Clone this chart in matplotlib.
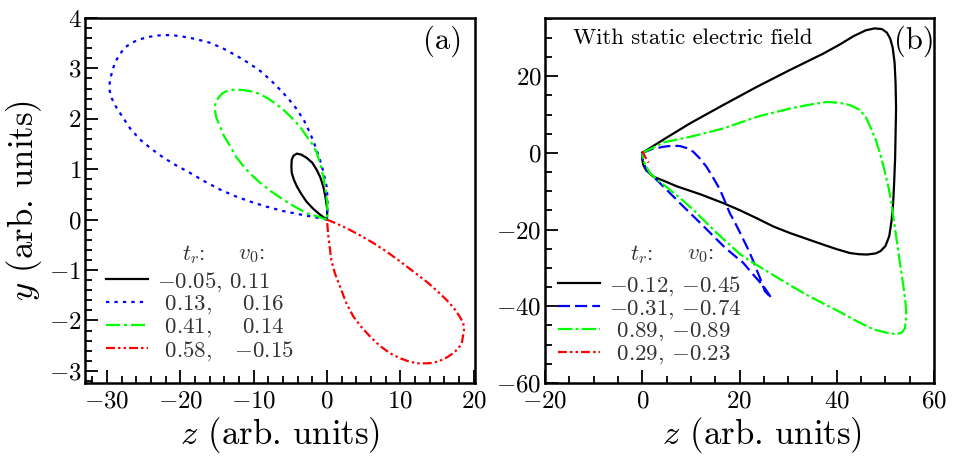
import matplotlib
matplotlib.use("Agg")
import matplotlib.pyplot as plt
from matplotlib.ticker import MultipleLocator

# ---------------- data: panel (a) ----------------
za_black = [0, 0.05, -0.2, -0.5, -0.9, -1.4, -2.0, -2.8, -3.5, -4.1, -4.55, -4.8, -4.85, -4.8, -4.5, -4.1, -3.5, -2.8, -1.9, -0.95, -0.4, 0]
ya_black = [0, 0.2, 0.45, 0.66, 0.84, 0.99, 1.13, 1.23, 1.29, 1.31, 1.27, 1.19, 1.06, 0.93, 0.79, 0.66, 0.51, 0.36, 0.22, 0.10, 0.04, 0]

za_blue = [0, -0.95, -3.2, -5.96, -8.3, -10.5, -12.6, -14.6, -16.7, -18.7, -20.6, -22.3, -24.0, -25.5, -26.8, -27.8, -28.7, -29.4, -29.7, -29.6, -29.3, -28.9, -28.3, -27.6, -26.6, -25.5, -24.1, -22.6, -21.1, -19.6, -17.8, -16.0, -14.2, -12.3, -10.6, -9.1, -7.7, -6.4, -5.2, -4.1, -3.1, -2.3, -1.6, -0.95, -0.45, -0.05, 0.1, 0.05, 0]
ya_blue = [0, 0.03, 0.09, 0.17, 0.26, 0.36, 0.47, 0.60, 0.76, 0.93, 1.08, 1.23, 1.41, 1.59, 1.80, 2.02, 2.22, 2.42, 2.60, 2.75, 2.94, 3.12, 3.27, 3.41, 3.51, 3.58, 3.63, 3.66, 3.66, 3.63, 3.58, 3.51, 3.40, 3.25, 3.10, 2.95, 2.77, 2.58, 2.39, 2.19, 1.96, 1.72, 1.46, 1.19, 0.93, 0.66, 0.42, 0.2, 0]

za_green = [0, -1.2, -2.8, -4.4, -6.0, -7.6, -9.1, -10.3, -11.4, -12.4, -13.2, -14.0, -14.6, -15.1, -15.3, -15.2, -14.8, -14.3, -13.7, -12.6, -11.4, -10.2, -9.1, -8.0, -6.9, -5.7, -4.6, -3.6, -2.8, -2.0, -1.4, -0.9, -0.5, -0.2, 0.05, 0.05, 0]
ya_green = [0, 0.06, 0.13, 0.26, 0.40, 0.56, 0.73, 0.89, 1.06, 1.25, 1.46, 1.65, 1.85, 2.03, 2.19, 2.32, 2.42, 2.50, 2.55, 2.58, 2.57, 2.54, 2.49, 2.40, 2.29, 2.15, 1.99, 1.83, 1.66, 1.50, 1.33, 1.10, 0.86, 0.60, 0.33, 0.15, 0]

za_red = [0, 1.2, 2.7, 4.5, 6.3, 8.2, 10.0, 11.8, 13.6, 15.0, 16.3, 17.3, 18.1, 18.6, 18.7, 18.4, 17.9, 17.2, 16.4, 15.4, 14.5, 13.6, 12.5, 11.3, 10.0, 8.6, 7.2, 5.9, 4.7, 3.6, 2.6, 1.8, 1.1, 0.6, 0.2, 0]
ya_red = [0, -0.07, -0.17, -0.31, -0.46, -0.64, -0.83, -1.03, -1.23, -1.41, -1.59, -1.75, -1.92, -2.05, -2.19, -2.45, -2.56, -2.65, -2.73, -2.80, -2.84, -2.85, -2.85, -2.82, -2.75, -2.65, -2.50, -2.32, -2.13, -1.92, -1.64, -1.33, -1.07, -0.80, -0.33, 0]

labels_a = [r"$-0.05$, $0.11$", r" $0.13$,    $0.16$", r" $0.41$,    $0.14$", r" $0.58$,   $-0.15$"]

# ---------------- data: panel (b) ----------------
zb_black = [0, 4.5, 9.8, 16.5, 23.5, 30.3, 37.2, 40.5, 43.5, 46.0, 47.8, 49.3, 50.3, 51.0, 51.5, 51.9, 52.1, 52.2, 52.1, 52.0, 51.8, 51.6, 51.3, 50.8, 50.0, 49.0, 48.0, 46.2, 44.5, 42.7, 40.0, 37.2, 33.8, 30.4, 27.0, 23.5, 20.0, 16.7, 12.0, 7.1, 4.5, 2.3, 0.8, 0.2, 0, 0]
yb_black = [0, 3.6, 7.7, 12.4, 17.2, 21.6, 25.9, 28.2, 30.5, 32.0, 32.5, 32.3, 31.4, 29.8, 27.5, 23.5, 18.1, 11.5, 5.1, -1.5, -7.9, -13.0, -17.4, -21.7, -24.3, -25.6, -26.2, -26.5, -26.4, -26.1, -25.1, -23.9, -22.4, -20.9, -19.2, -17.0, -14.9, -13.1, -10.8, -8.7, -7.3, -6.2, -4.5, -3.1, -1.5, 0]

zb_blue = [0, 2.0, 4.3, 6.2, 7.8, 9.3, 10.5, 11.9, 13.2, 14.6, 16.0, 17.0, 18.0, 19.0, 19.8, 20.8, 21.8, 22.7, 23.5, 24.4, 25.2, 26.6, 24.9, 22.8, 20.8, 18.7, 16.7, 12.6, 8.4, 4.3, 2.0, 0.9, 0.2, 0, 0]
yb_blue = [0, 1.0, 1.6, 1.9, 1.8, 1.2, 0.3, -1.5, -3.6, -6.5, -9.6, -12.6, -15.7, -18.0, -20.0, -22.6, -25.2, -27.8, -30.4, -33.2, -36.0, -37.9, -34.7, -31.7, -28.7, -26.5, -24.3, -19.1, -13.9, -8.7, -5.8, -4.4, -2.5, -1.0, 0]

zb_green = [0, 4.5, 9.8, 16.7, 23.5, 30.4, 34.5, 37.9, 40.5, 42.7, 44.8, 46.0, 46.9, 48.0, 48.9, 49.8, 50.6, 51.2, 51.6, 51.9, 52.3, 52.7, 53.2, 53.7, 54.1, 54.3, 54.2, 54.0, 53.4, 52.3, 50.0, 47.5, 44.0, 40.7, 37.3, 33.8, 30.4, 27.0, 23.5, 20.1, 15.0, 10.5, 8.0, 5.7, 3.5, 1.6, 0.2, 0]
yb_green = [0, 2.8, 4.2, 6.4, 9.4, 11.6, 12.6, 13.3, 13.1, 12.5, 11.2, 9.3, 6.8, 3.5, -0.1, -4.5, -8.7, -12.7, -16.5, -19.0, -22.5, -26.1, -30.4, -34.7, -38.5, -41.6, -44.0, -45.8, -46.8, -47.3, -46.8, -46.0, -43.8, -41.5, -39.3, -37.0, -34.5, -31.9, -29.2, -26.4, -20.5, -14.8, -12.0, -9.6, -7.4, -5.3, -2.0, 0]

zb_red = [0, 0.2, 0.5, 0.9, 1.3]
yb_red = [0.5, 0, -0.8, -1.7, -2.5]

labels_b = [r"$-0.12$, $-0.45$", r"$-0.31$, $-0.74$", r" $0.89$, $-0.89$", r" $0.29$, $-0.23$"]

xticks_a = [-30, -20, -10, 0, 10, 20]
yticks_a = [-3, -2, -1, 0, 1, 2, 3, 4]
xticks_b = [-20, 0, 20, 40, 60]
yticks_b = [-60, -40, -20, 0, 20]

# ---------------- style ----------------
plt.rcParams.update({
    "font.family": "serif",
    "font.serif": ["cmr10"],
    "mathtext.fontset": "cm",
    "axes.formatter.use_mathtext": True,
    "axes.unicode_minus": True,
})

BLUE, GREEN, RED = "#0000ff", "#00ff00", "#ff0000"
TXT = "#333333"
LW = 1.6
LFS = 16.5
ALFS = 25
dotted = (0, (1.5, 2.3))
dashdot_a = (0, (6.3, 1.8, 1.35, 1.8))
dashdotdot = (0, (4.0, 1.4, 1.1, 1.4, 1.1, 1.4))
dashed_b = (0, (5.4, 2.3))
dashdot_b = (0, (6.5, 1.4, 1.3, 1.4))

fig = plt.figure(figsize=(9.59, 4.59), dpi=100)
H = 459.0
W = 959.0
axa = fig.add_axes([85 / W, 1 - 383 / H, 390 / W, 365 / H])
axb = fig.add_axes([545 / W, 1 - 383 / H, 389 / W, 365 / H])

for ax in (axa, axb):
    for s in ax.spines.values():
        s.set_linewidth(1.8)
    ax.tick_params(which="both", direction="in", top=False, right=False,
                   labelsize=18, width=1.3)
    ax.tick_params(which="major", length=9.5)
    ax.tick_params(which="minor", length=4.7)
    ax.tick_params(axis="x", pad=5)
    ax.tick_params(axis="y", pad=2.5)

# ---- panel a ----
la1, = axa.plot(za_black, ya_black, color="black", lw=LW, ls="-")
la2, = axa.plot(za_blue, ya_blue, color=BLUE, lw=LW, ls=dotted)
la3, = axa.plot(za_green, ya_green, color=GREEN, lw=LW, ls=dashdot_a)
la4, = axa.plot(za_red, ya_red, color=RED, lw=LW, ls=dashdotdot)
axa.set_xlim(-33, 20.2)
axa.set_ylim(-3.24, 4.0)
axa.set_xticks(xticks_a)
axa.set_yticks(yticks_a)
axa.xaxis.set_minor_locator(MultipleLocator(2))
axa.yaxis.set_minor_locator(MultipleLocator(0.2))
axa.set_xlabel(r"$z$ (arb. units)", fontsize=ALFS)
axa.set_ylabel(r"$y$ (arb. units)", fontsize=ALFS)
axa.xaxis.set_label_coords(0.5, -0.088)
axa.yaxis.set_label_coords(-0.105, 0.5)
axa.text(0.917, 0.936, "(a)", transform=axa.transAxes, ha="center", va="center", fontsize=22)
axa.text(0.249, 0.351, r"$t_r$:", transform=axa.transAxes, ha="left", va="center", fontsize=LFS, color=TXT)
axa.text(0.392, 0.351, r"$v_0$:", transform=axa.transAxes, ha="left", va="center", fontsize=LFS, color=TXT)
leg_a = axa.legend([la1, la2, la3, la4], labels_a, loc="upper left",
                   bbox_to_anchor=(0.054, 0.31), frameon=False, fontsize=LFS,
                   borderpad=0, borderaxespad=0, handlelength=1.83,
                   handletextpad=0.39, labelspacing=0.0, labelcolor=TXT)

# ---- panel b ----
lb1, = axb.plot(zb_black, yb_black, color="black", lw=LW, ls="-")
lb2, = axb.plot(zb_blue, yb_blue, color=BLUE, lw=LW, ls=dashed_b)
lb3, = axb.plot(zb_green, yb_green, color=GREEN, lw=LW, ls=dashdot_b)
lb4, = axb.plot(zb_red, yb_red, color=RED, lw=LW, ls=dashdotdot)
axb.set_xlim(-20, 60)
axb.set_ylim(-60, 35.2)
axb.set_xticks(xticks_b)
axb.set_yticks(yticks_b)
axb.xaxis.set_minor_locator(MultipleLocator(5))
axb.yaxis.set_minor_locator(MultipleLocator(5))
axb.set_xlabel(r"$z$ (arb. units)", fontsize=ALFS)
axb.xaxis.set_label_coords(0.558, -0.088)
axb.text(0.950, 0.937, "(b)", transform=axb.transAxes, ha="center", va="center", fontsize=22)
axb.text(0.0728, 0.929, "With static electric field", transform=axb.transAxes,
         ha="left", va="baseline", fontsize=16.3)
axb.text(0.2185, 0.351, r"$t_r$:", transform=axb.transAxes, ha="left", va="center", fontsize=LFS, color=TXT)
axb.text(0.364, 0.351, r"$v_0$:", transform=axb.transAxes, ha="left", va="center", fontsize=LFS, color=TXT)
leg_b = axb.legend([lb1, lb2, lb3, lb4], labels_b, loc="upper left",
                   bbox_to_anchor=(0.034, 0.2986), frameon=False, fontsize=LFS,
                   borderpad=0, borderaxespad=0, handlelength=1.83,
                   handletextpad=0.39, labelspacing=0.0, labelcolor=TXT)

fig.savefig("out.png", dpi=100)
